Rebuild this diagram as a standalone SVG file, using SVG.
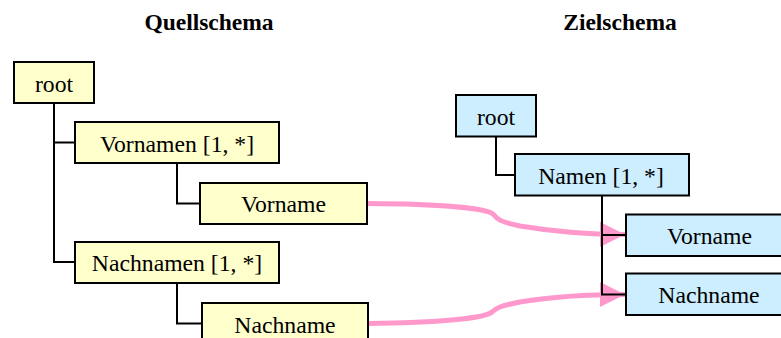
<svg xmlns="http://www.w3.org/2000/svg" width="781" height="338" viewBox="0 0 781 338">
<defs>
<style>
.title{font-family:"Liberation Serif","Times New Roman",serif;font-size:23.5px;font-weight:bold;fill:#000;text-anchor:middle}
.lbl{font-family:"Liberation Serif","Times New Roman",serif;font-size:23.7px;fill:#000;text-anchor:middle}
.src{fill:#ffffcc;stroke:#000;stroke-width:2}
.tgt{fill:#cceeff;stroke:#000;stroke-width:2}
.tree{fill:none;stroke:#000;stroke-width:2}
.map{fill:none;stroke:#ff99cc;stroke-width:5;marker-end:url(#arr)}
</style>
<marker id="arr" markerUnits="userSpaceOnUse" markerWidth="26" markerHeight="26" refX="25" refY="12.5" orient="auto">
<path d="M0,0 L25,12.5 L0,25 z" fill="#ff99cc"/>
</marker>
</defs>
<rect width="781" height="338" fill="#fff"/>
<text class="title" x="209" y="30">Quellschema</text>
<text class="title" x="620" y="30">Zielschema</text>
<g id="connectors">
<path class="map" d="M368,203.5 C440,204 485,208 493,214 C497,219 500,222 520,226 C550,231 580,234.5 625,234.5"/>
<path class="map" d="M368,323.5 C440,323 485,318 492,312 C496,308 500,306 520,302 C550,297 580,294.5 625,294.5"/>
<path class="tree" d="M54,103 V262 H75 M54,142.5 H75"/>
<path class="tree" d="M177,163 V203.5 H200"/>
<path class="tree" d="M177,283 V323.5 H202"/>
<path class="tree" d="M496,136.5 V175 H515"/>
<path class="tree" d="M602,195.5 V294.5 H626 M602,235 H626"/>
</g>
<g id="src-root"><rect class="src" x="14" y="62" width="80" height="41"/><text class="lbl" x="54" y="91.5">root</text></g>
<g id="src-vornamen"><rect class="src" x="75" y="122" width="204" height="41"/><text class="lbl" x="177" y="151.5">Vornamen [1, *]</text></g>
<g id="src-vorname"><rect class="src" x="200" y="183" width="167" height="41"/><text class="lbl" x="283.5" y="212">Vorname</text></g>
<g id="src-nachnamen"><rect class="src" x="75" y="242" width="204" height="41"/><text class="lbl" x="177" y="271">Nachnamen [1, *]</text></g>
<g id="src-nachname"><rect class="src" x="202" y="303" width="166" height="42"/><text class="lbl" x="285" y="333">Nachname</text></g>
<g id="tgt-root"><rect class="tgt" x="456" y="95" width="80" height="41.5"/><text class="lbl" x="496" y="125">root</text></g>
<g id="tgt-namen"><rect class="tgt" x="515" y="154" width="174" height="41.5"/><text class="lbl" x="601" y="184">Namen [1, *]</text></g>
<g id="tgt-vorname"><rect class="tgt" x="626" y="214.5" width="167" height="41.5"/><text class="lbl" x="709.5" y="243.5">Vorname</text></g>
<g id="tgt-nachname"><rect class="tgt" x="626" y="273.5" width="167" height="41.5"/><text class="lbl" x="709" y="303">Nachname</text></g>
</svg>
